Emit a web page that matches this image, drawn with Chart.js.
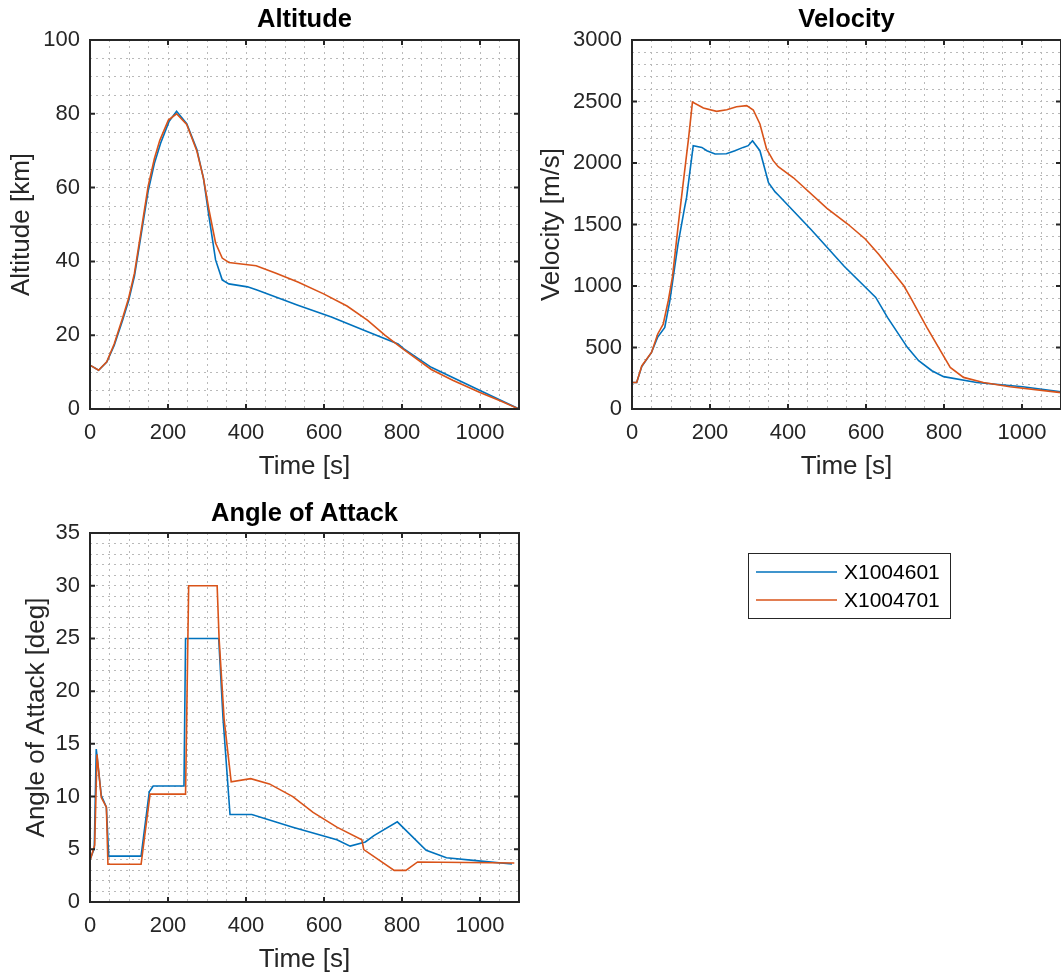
<!DOCTYPE html>
<html>
<head>
<meta charset="utf-8">
<title>Trajectory comparison</title>
<script src="https://cdn.jsdelivr.net/npm/chart.js@4.4.1/dist/chart.umd.min.js"></script>
<style>
  html, body { margin: 0; padding: 0; background: #fff; }
  #fig { position: relative; width: 1061px; height: 980px; overflow: hidden; background: #fff; }
  #fig canvas { position: absolute; }
</style>
</head>
<body>
<div id="fig">
  <canvas id="altChart" width="530" height="490" style="left:0;top:0"></canvas>
  <canvas id="velChart" width="531" height="490" style="left:530px;top:0"></canvas>
  <canvas id="aoaChart" width="1061" height="490" style="left:0;top:490px"></canvas>
</div>
<script>
// series
const seriesNames = ["X1004601", "X1004701"];

// tick labels
const timeTicks = [0, 200, 400, 600, 800, 1000];
const altTicks = [0, 20, 40, 60, 80, 100];
const velTicks = [0, 500, 1000, 1500, 2000, 2500, 3000];
const aoaTicks = [0, 5, 10, 15, 20, 25, 30, 35];

// altitude [km]
const altTimeBlue = [0, 22, 43, 62, 84, 99, 114, 130, 149, 165, 181, 203, 222, 248, 274, 291, 305, 322, 339, 356, 380, 404, 430, 533, 619, 704, 790, 805, 875, 1000, 1100];
const altBlue = [11.9, 10.5, 12.7, 17.2, 24.2, 29.3, 36.0, 46.5, 59.0, 66.5, 72.0, 78.0, 80.7, 77.3, 70.3, 62.5, 52.2, 40.4, 35.0, 33.9, 33.5, 33.1, 32.2, 28.1, 24.9, 21.3, 17.6, 16.3, 11.3, 5.0, 0];
const altTimeOrange = [0, 22, 43, 62, 84, 99, 114, 130, 149, 165, 179, 201, 222, 248, 274, 291, 305, 322, 339, 356, 426, 477, 533, 599, 659, 712, 756, 803, 875, 930, 1000, 1050, 1100];
const altOrange = [11.9, 10.5, 12.8, 17.6, 24.8, 30.0, 36.8, 47.5, 60.3, 67.8, 72.8, 78.3, 80.0, 77.1, 69.9, 62.5, 54.0, 45.0, 40.9, 39.7, 38.8, 36.8, 34.4, 31.2, 27.9, 24.0, 20.0, 16.2, 10.7, 7.8, 4.5, 2.3, 0];

// velocity [m/s]
const velTimeBlue = [0, 12, 25, 50, 66, 84, 97, 118, 135, 140, 157, 179, 192, 213, 242, 264, 285, 298, 309, 328, 350, 367, 375, 459, 544, 625, 655, 706, 735, 769, 799, 884, 1002, 1100];
const velBlue = [216, 216, 345, 460, 585, 663, 880, 1340, 1640, 1720, 2141, 2127, 2100, 2073, 2075, 2100, 2127, 2141, 2181, 2100, 1840, 1765, 1740, 1460, 1160, 907, 745, 501, 393, 311, 263, 216, 181, 140];
const velTimeOrange = [0, 12, 25, 50, 66, 80, 93, 104, 118, 131, 145, 155, 183, 217, 243, 268, 294, 311, 328, 345, 362, 375, 414, 500, 553, 598, 632, 697, 714, 756, 816, 850, 901, 969, 1100];
const velOrange = [216, 216, 350, 460, 610, 690, 880, 1080, 1480, 1830, 2200, 2495, 2447, 2420, 2433, 2458, 2466, 2431, 2317, 2114, 2019, 1970, 1880, 1632, 1504, 1382, 1260, 1002, 907, 663, 338, 257, 216, 181, 133];

// angle of attack [deg]
const aoaTimeBlue = [0, 11, 16, 29, 42, 48, 131, 152, 162, 241, 245, 330, 341, 359, 415, 520, 633, 667, 706, 728, 788, 862, 914, 996, 1082];
const aoaBlue = [4.0, 5.1, 14.5, 10.1, 9.0, 4.35, 4.35, 10.45, 11.0, 11.0, 25, 25, 17.5, 8.3, 8.3, 7.1, 5.9, 5.3, 5.7, 6.3, 7.6, 4.9, 4.2, 3.9, 3.6];
const aoaTimeOrange = [0, 12, 18, 29, 42, 46, 131, 154, 245, 253, 326, 331, 344, 362, 412, 460, 520, 572, 633, 697, 702, 780, 810, 840, 1088];
const aoaOrange = [3.9, 5.4, 14.0, 9.9, 9.0, 3.58, 3.58, 10.23, 10.23, 30, 30, 25, 17.3, 11.4, 11.7, 11.2, 10.0, 8.5, 7.1, 5.9, 4.97, 3.0, 3.0, 3.8, 3.7];

Chart.defaults.font.family = "'Liberation Sans', Arial, Helvetica, sans-serif";

const BLUE = "#0072BD";
const ORANGE = "#D95319";
const AXIS = "#262626";
const GRID = "#b9b9b9";

function pts(ts, vs) {
  return ts.map((t, i) => ({ x: t, y: vs[i] }));
}

function datasets(tb, vb, to, vo) {
  return [
    { label: seriesNames[0], data: pts(tb, vb), borderColor: BLUE, order: 1 },
    { label: seriesNames[1], data: pts(to, vo), borderColor: ORANGE, order: 0 }
  ];
}

// box round the axes with inward ticks on all four sides
const matlabBox = {
  id: "matlabBox",
  afterDatasetsDraw(chart) {
    const { ctx, chartArea: a, scales } = chart;
    const len = 5;
    ctx.save();
    ctx.strokeStyle = AXIS;
    ctx.lineWidth = 2;
    ctx.beginPath();
    scales.x.ticks.forEach(t => {
      if (t.label === "") return;
      const px = scales.x.getPixelForValue(t.value);
      ctx.moveTo(px, a.bottom); ctx.lineTo(px, a.bottom - len);
      ctx.moveTo(px, a.top); ctx.lineTo(px, a.top + len);
    });
    scales.y.ticks.forEach(t => {
      if (t.label === "") return;
      const py = scales.y.getPixelForValue(t.value);
      ctx.moveTo(a.left, py); ctx.lineTo(a.left + len, py);
      ctx.moveTo(a.right, py); ctx.lineTo(a.right - len, py);
    });
    ctx.stroke();
    ctx.strokeRect(a.left, a.top, a.right - a.left, a.bottom - a.top);
    ctx.restore();
  }
};

// legend box sitting right of the lower plot
const legendBox = {
  id: "legendBox",
  afterDraw(chart) {
    const ctx = chart.ctx;
    ctx.save();
    ctx.fillStyle = "#fff";
    ctx.fillRect(748, 63, 202, 65);
    ctx.strokeStyle = "#262626";
    ctx.lineWidth = 1;
    ctx.strokeRect(748.5, 63.5, 202, 65);
    ctx.font = "21px 'Liberation Sans', Arial, sans-serif";
    ctx.textBaseline = "middle";
    chart.data.datasets.forEach((ds, i) => {
      const y = 82 + i * 28;
      ctx.strokeStyle = ds.borderColor;
      ctx.lineWidth = 1.6;
      ctx.beginPath();
      ctx.moveTo(756, y);
      ctx.lineTo(837, y);
      ctx.stroke();
      ctx.fillStyle = "#000";
      ctx.fillText(ds.label, 844, y + 1);
    });
    ctx.restore();
  }
};

function options(p) {
  return {
    responsive: false,
    animation: false,
    events: [],
    elements: {
      line: { borderWidth: 1.6, tension: 0, fill: false },
      point: { radius: 0 }
    },
    layout: { padding: { top: 0, left: 0, bottom: 0, right: p.padRight } },
    plugins: {
      legend: { display: false },
      tooltip: { enabled: false },
      title: {
        display: true, text: p.title, fullSize: false, color: "#000",
        font: { size: 25.5, weight: "bold" },
        padding: { top: p.titleTop, bottom: p.titleBottom }
      }
    },
    scales: {
      x: {
        type: "linear", min: 0, max: 1100,
        afterFit: s => { s.height = p.xHeight; s.paddingLeft = 0; s.paddingRight = 0; },
        grid: { color: GRID, lineWidth: 1, drawTicks: false },
        border: { display: false, dash: [2, 4] },
        ticks: {
          stepSize: 50, maxTicksLimit: 1000, autoSkip: false, maxRotation: 0,
          padding: 11, color: AXIS, font: { size: 22 },
          callback: v => timeTicks.includes(v) ? String(v) : ""
        },
        title: { display: true, text: "Time [s]", color: AXIS, font: { size: 26 }, padding: { top: 0, bottom: p.xTitlePad } }
      },
      y: {
        type: "linear", min: 0, max: p.yMax,
        afterFit: s => { s.width = p.yWidth; },
        grid: { color: GRID, lineWidth: 1, drawTicks: false },
        border: { display: false, dash: [2, 4] },
        ticks: {
          stepSize: p.yStep, maxTicksLimit: 1000, autoSkip: false,
          padding: 10, color: AXIS, font: { size: 22 },
          callback: v => p.yTicks.includes(v) ? String(v) : ""
        },
        title: { display: true, text: p.yLabel, color: AXIS, font: { size: 26 }, padding: { top: p.yTitlePad, bottom: 0 } }
      }
    }
  };
}

new Chart(document.getElementById("altChart"), {
  type: "line",
  data: { datasets: datasets(altTimeBlue, altBlue, altTimeOrange, altOrange) },
  options: options({
    title: "Altitude", titleTop: 4.7, titleBottom: 4.7, padRight: 11,
    xHeight: 81, xTitlePad: 7.7, yWidth: 90, yTitlePad: 6.1,
    yMax: 100, yStep: 5, yTicks: altTicks, yLabel: "Altitude [km]"
  }),
  plugins: [matlabBox]
});

new Chart(document.getElementById("velChart"), {
  type: "line",
  data: { datasets: datasets(velTimeBlue, velBlue, velTimeOrange, velOrange) },
  options: options({
    title: "Velocity", titleTop: 4.7, titleBottom: 4.7, padRight: 0,
    xHeight: 81, xTitlePad: 7.7, yWidth: 102, yTitlePad: 6.1,
    yMax: 3000, yStep: 100, yTicks: velTicks, yLabel: "Velocity [m/s]"
  }),
  plugins: [matlabBox]
});

new Chart(document.getElementById("aoaChart"), {
  type: "line",
  data: { datasets: datasets(aoaTimeBlue, aoaBlue, aoaTimeOrange, aoaOrange) },
  options: options({
    title: "Angle of Attack", titleTop: 8.7, titleBottom: 3.7, padRight: 542,
    xHeight: 78, xTitlePad: 4.4, yWidth: 90, yTitlePad: 21.1,
    yMax: 35, yStep: 1, yTicks: aoaTicks, yLabel: "Angle of Attack [deg]"
  }),
  plugins: [matlabBox, legendBox]
});
</script>
</body>
</html>
